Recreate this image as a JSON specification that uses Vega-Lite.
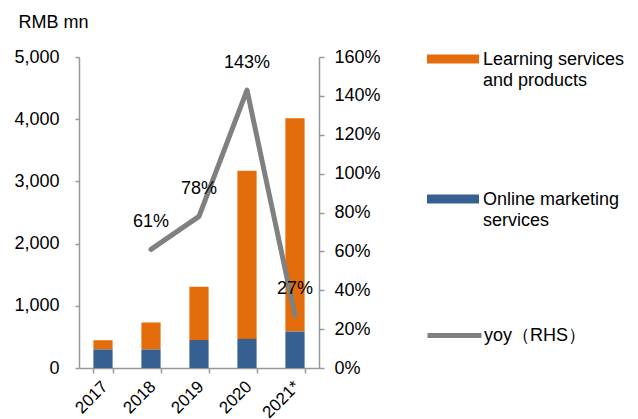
{
  "$schema": "https://vega.github.io/schema/vega-lite/v6.json",
  "width": 240,
  "height": 311,
  "autosize": {"type": "none"},
  "padding": {"left": 79, "top": 57, "right": 319, "bottom": 51},
  "background": "white",
  "config": {
    "view": {"stroke": null},
    "font": "Liberation Sans",
    "axis": {
      "grid": false,
      "domainColor": "#999999",
      "domainWidth": 1.5,
      "tickColor": "#999999",
      "tickWidth": 1.5,
      "labelColor": "#000000",
      "labelFontSize": 18,
      "labelFont": "Liberation Sans",
      "labelOverlap": false
    },
    "legend": {
      "labelFont": "Liberation Sans",
      "labelFontSize": 18,
      "labelColor": "#000000",
      "padding": 0,
      "labelLimit": 300
    }
  },
  "datasets": {
    "bars": [
      {"year": "2017", "segment": "Learning services and products", "value": 150},
      {"year": "2017", "segment": "Online marketing services", "value": 296},
      {"year": "2018", "segment": "Learning services and products", "value": 435},
      {"year": "2018", "segment": "Online marketing services", "value": 296},
      {"year": "2019", "segment": "Learning services and products", "value": 854},
      {"year": "2019", "segment": "Online marketing services", "value": 452},
      {"year": "2020", "segment": "Learning services and products", "value": 2704},
      {"year": "2020", "segment": "Online marketing services", "value": 468},
      {"year": "2021*", "segment": "Learning services and products", "value": 3430},
      {"year": "2021*", "segment": "Online marketing services", "value": 586}
    ],
    "yoy": [
      {"year": "2018", "series": "yoy（RHS）", "yoy": 0.61},
      {"year": "2019", "series": "yoy（RHS）", "yoy": 0.78},
      {"year": "2020", "series": "yoy（RHS）", "yoy": 1.43},
      {"year": "2021*", "series": "yoy（RHS）", "yoy": 0.27}
    ]
  },
  "encoding": {
    "x": {
      "field": "year",
      "type": "nominal",
      "scale": {"paddingInner": 0.6, "paddingOuter": 0.3},
      "axis": {
        "title": null,
        "labelAngle": -45,
        "labelFontSize": 17,
        "tickBand": "extent",
        "tickSize": 5,
        "labelPadding": 5,
        "labelOffset": -4
      }
    }
  },
  "layer": [
    {
      "data": {"name": "bars"},
      "mark": {"type": "bar"},
      "encoding": {
        "y": {
          "field": "value",
          "type": "quantitative",
          "stack": "zero",
          "scale": {"domain": [0, 5000], "nice": false},
          "axis": {
            "title": "RMB mn",
            "titleAngle": 0,
            "titleX": -61,
            "titleY": -30,
            "titleAlign": "left",
            "titleBaseline": "alphabetic",
            "titleFontSize": 18,
            "titleFontWeight": "normal",
            "titleColor": "#000000",
            "titleFont": "Liberation Sans",
            "values": [0, 1000, 2000, 3000, 4000, 5000],
            "format": ",.0f",
            "tickSize": 4,
            "labelPadding": 16
          }
        },
        "color": {
          "field": "segment",
          "type": "nominal",
          "scale": {
            "domain": ["Learning services and products", "Online marketing services"],
            "range": ["#E46C0A", "#376092"]
          },
          "legend": {
            "title": null,
            "orient": "none",
            "legendX": 348,
            "legendY": -23,
            "direction": "vertical",
            "symbolType": "M-1,-0.211H1V0.135H-1Z",
            "symbolSize": 2704,
            "symbolStrokeWidth": 0,
            "labelOffset": 4,
            "rowPadding": 84,
            "labelBaseline": "middle",
            "labelExpr": "datum.label == 'Learning services and products' ? ['\u00a0Learning services', 'and products'] : ['\u00a0Online marketing', 'services']",
            "encode": {"labels": {"update": {"lineHeight": {"value": 21}}}}
          }
        },
        "order": {"field": "segment", "sort": "descending"}
      }
    },
    {
      "data": {"name": "yoy"},
      "encoding": {
        "y": {
          "field": "yoy",
          "type": "quantitative",
          "scale": {"domain": [0, 1.6], "nice": false},
          "axis": {
            "orient": "right",
            "title": null,
            "values": [0, 0.2, 0.4, 0.6, 0.8, 1.0, 1.2, 1.4, 1.6],
            "format": ".0%",
            "tickSize": 5,
            "labelPadding": 10,
            "labelOverlap": false
          }
        }
      },
      "layer": [
        {
          "mark": {"type": "line", "strokeWidth": 5, "strokeCap": "round", "strokeJoin": "round"},
          "encoding": {
            "stroke": {
              "field": "series",
              "type": "nominal",
              "scale": {"range": ["#808080"]},
              "legend": {
                "title": null,
                "orient": "none",
                "legendX": 346,
                "legendY": 249,
                "symbolType": "stroke",
                "symbolSize": 2916,
                "symbolStrokeWidth": 5,
                "labelOffset": 0,
                "labelBaseline": "middle"
              }
            }
          }
        },
        {
          "mark": {"type": "text", "dy": -27, "fontSize": 18, "color": "#000000", "font": "Liberation Sans"},
          "encoding": {
            "text": {"field": "yoy", "type": "quantitative", "format": ".0%"}
          }
        }
      ]
    }
  ],
  "resolve": {"scale": {"y": "independent", "color": "independent", "stroke": "independent"}}
}
